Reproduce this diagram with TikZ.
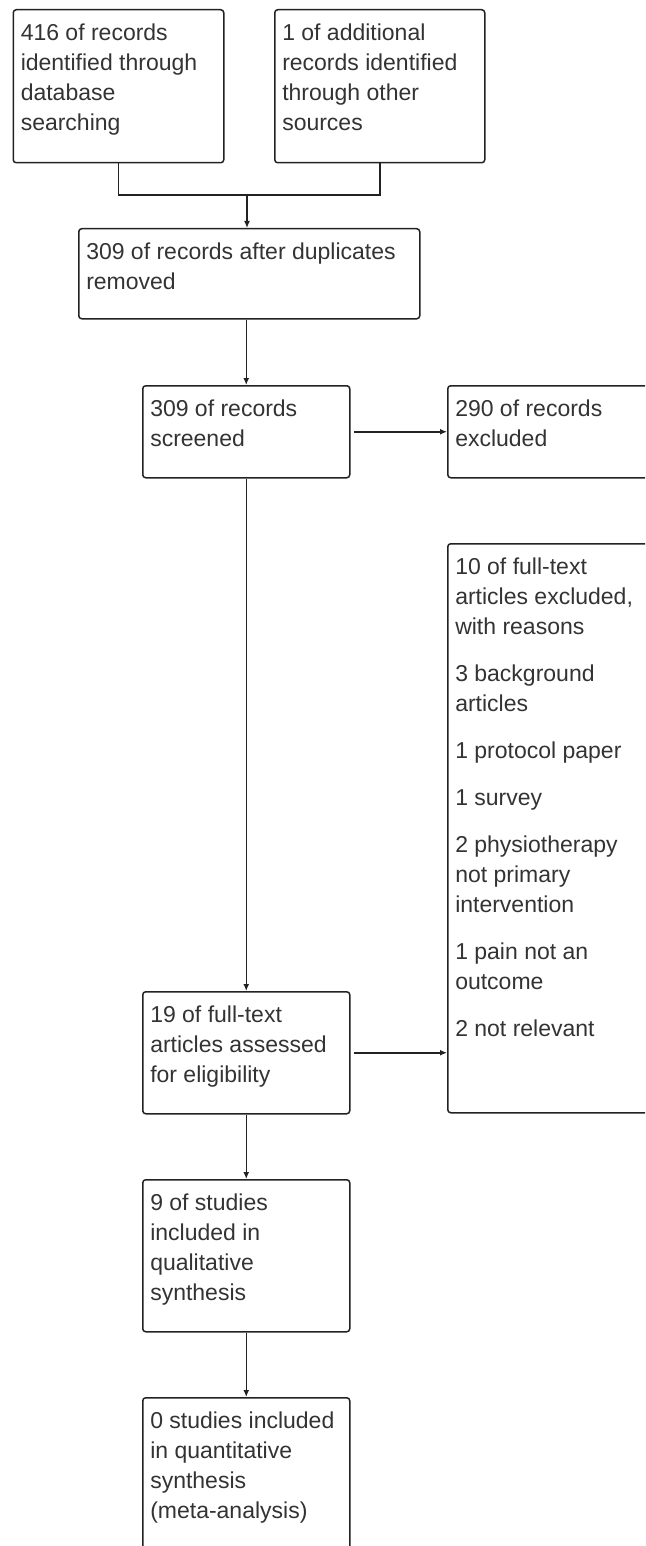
\documentclass[tikz,border=0pt]{standalone}
\usepackage{fontspec}
\setmainfont{Liberation Sans}
\usetikzlibrary{arrows.meta}
% text block: width, height, lines (top aligned, fixed line pitch)
\newcommand\flowtext[3]{\parbox[c][#2][t]{#1}{\fontsize{23pt}{30pt}\selectfont\raggedright\parskip=17pt\rule{0pt}{30.5pt}#3}}
\definecolor{ink}{HTML}{222222}
\definecolor{txt}{HTML}{333333}
\begin{document}
\begin{tikzpicture}[x=1pt,y=-1pt,
  flowbox/.style={draw=ink, line width=1.5pt, rounded corners=3pt, anchor=north west,
    inner xsep=7.5pt, inner ysep=0pt, text=txt},
  link/.style={draw=ink, line width=1.5pt},
  arr/.style={link, -{Latex[length=7pt,width=6pt]}}]
\useasboundingbox (0,0) rectangle (645,1546);
\clip (0,0) rectangle (645,1546);

\node[flowbox] (A) at (12.5,9) {\flowtext{195.5pt}{153pt}{416 of records\\identified through\\database\\searching}};
\node[flowbox] (B) at (274,9) {\flowtext{195pt}{153pt}{1 of additional\\records identified\\through other\\sources}};
\node[flowbox] (C) at (78,228) {\flowtext{326pt}{90pt}{309 of records after duplicates\\removed}};
\node[flowbox] (D) at (142,385) {\flowtext{192pt}{92pt}{309 of records\\screened}};
\node[flowbox] (E) at (447,385) {\flowtext{235pt}{92pt}{290 of records\\excluded}};
\node[flowbox] (F) at (447,543) {\flowtext{235pt}{569pt}{10 of full-text\\articles excluded,\\with reasons\par
  3 background\\articles\par
  1 protocol paper\par
  1 survey\par
  2 physiotherapy\\not primary\\intervention\par
  1 pain not an\\outcome\par
  2 not relevant}};
\node[flowbox] (G) at (142,991) {\flowtext{192pt}{122pt}{19 of full-text\\articles assessed\\for eligibility}};
\node[flowbox] (H) at (142,1179) {\flowtext{192pt}{152pt}{9 of studies\\included in\\qualitative\\synthesis}};
\node[flowbox] (I) at (142,1397) {\flowtext{192pt}{200pt}{0 studies included\\in quantitative\\synthesis\\(meta-analysis)}};

% merge of the two sources
\coordinate (merge) at (247,195);
\draw[link] (A.south) |- (merge) -| (B.south);
\draw[arr] (merge) -- (merge |- C.north);

% main flow
\draw[arr] (D.north |- C.south) -- (D.north);
\draw[arr] (D.south) -- (G.north);
\draw[arr] (G.south) -- (H.north);
\draw[arr] (H.south) -- (I.north);

% exclusions
\draw[arr] ([xshift=3pt]D.east) -- (E.west);
\draw[arr] ([xshift=3pt]G.east) -- (G.east -| F.west);
\end{tikzpicture}
\end{document}
